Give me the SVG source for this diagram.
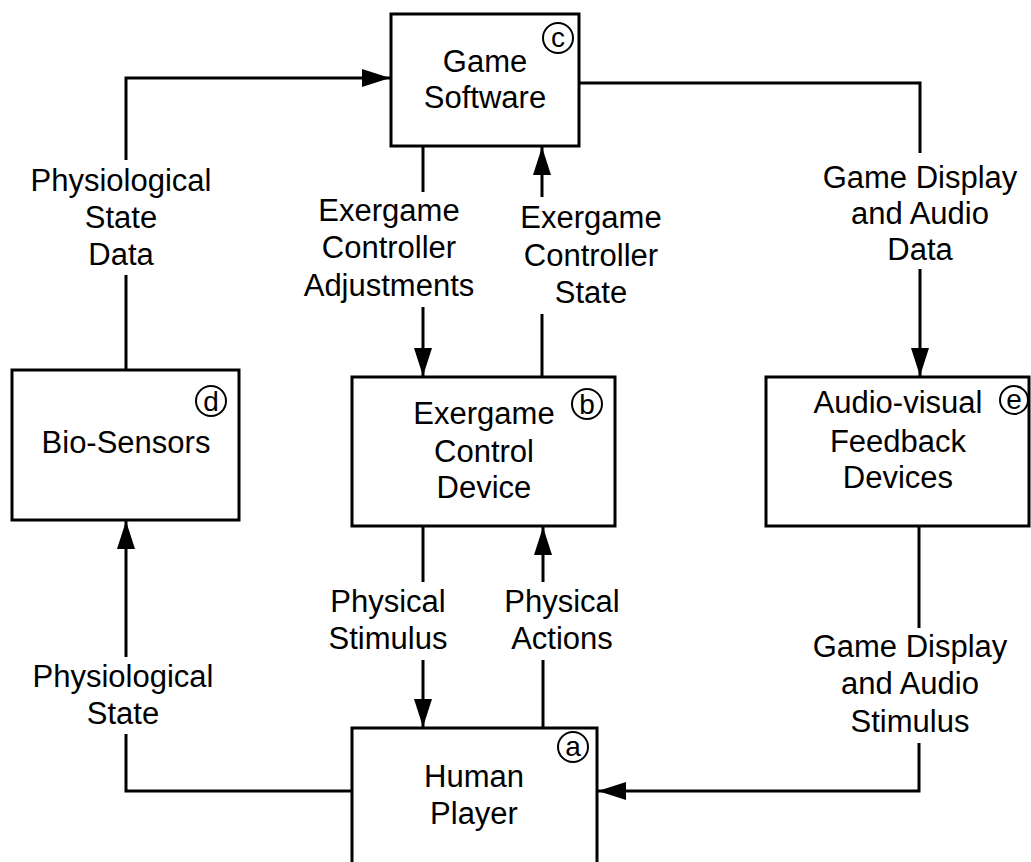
<svg xmlns="http://www.w3.org/2000/svg" width="1031" height="862" viewBox="0 0 1031 862">
<style>
.box{fill:#fff;stroke:#000;stroke-width:3}
.ln{fill:none;stroke:#000;stroke-width:3}
.t{font-family:"Liberation Sans",Arial,sans-serif;font-size:31px;fill:#000;text-anchor:middle}
.c{fill:none;stroke:#000;stroke-width:2}
.ct{font-family:"Liberation Sans",Arial,sans-serif;font-size:28px;fill:#000;text-anchor:middle}
</style>
<defs>
<marker id="ah" viewBox="0 0 10 10" refX="10" refY="5" markerUnits="userSpaceOnUse" markerWidth="28" markerHeight="18" orient="auto" preserveAspectRatio="none">
<path d="M0,0 L10,5 L0,10 z" fill="#000"/>
</marker>
</defs>
<rect width="1031" height="862" fill="#fff"/>
<g id="connectors">
<path class="ln" d="M126,370 V275"/>
<path class="ln" d="M126,160 V78 H390" marker-end="url(#ah)"/>
<path class="ln" d="M423,146 V192"/>
<path class="ln" d="M423,307 V376" marker-end="url(#ah)"/>
<path class="ln" d="M542,377 V314"/>
<path class="ln" d="M542,197 V147" marker-end="url(#ah)"/>
<path class="ln" d="M579,83 H920 V153"/>
<path class="ln" d="M920,269 V376" marker-end="url(#ah)"/>
<path class="ln" d="M423,526 V582"/>
<path class="ln" d="M423,660 V727" marker-end="url(#ah)"/>
<path class="ln" d="M543,728 V660"/>
<path class="ln" d="M543,582 V527" marker-end="url(#ah)"/>
<path class="ln" d="M352,791 H126 V734"/>
<path class="ln" d="M126,657 V521" marker-end="url(#ah)"/>
<path class="ln" d="M919,526 V628"/>
<path class="ln" d="M919,743 V791 H598" marker-end="url(#ah)"/>
</g>
<g id="labels">
<text class="t" x="121" y="191">Physiological</text>
<text class="t" x="121" y="228">State</text>
<text class="t" x="121" y="265">Data</text>
<text class="t" x="389" y="221">Exergame</text>
<text class="t" x="389" y="258">Controller</text>
<text class="t" x="389" y="296">Adjustments</text>
<text class="t" x="591" y="228">Exergame</text>
<text class="t" x="591" y="266">Controller</text>
<text class="t" x="591" y="303">State</text>
<text class="t" x="920" y="188">Game Display</text>
<text class="t" x="920" y="224">and Audio</text>
<text class="t" x="920" y="260">Data</text>
<text class="t" x="388" y="612">Physical</text>
<text class="t" x="388" y="649">Stimulus</text>
<text class="t" x="562" y="612">Physical</text>
<text class="t" x="562" y="649">Actions</text>
<text class="t" x="123" y="687">Physiological</text>
<text class="t" x="123" y="724">State</text>
<text class="t" x="910" y="657">Game Display</text>
<text class="t" x="910" y="694">and Audio</text>
<text class="t" x="910" y="732">Stimulus</text>
</g>
<g id="game-software">
<rect class="box" x="391" y="14" width="188" height="132"/>
<text class="t" x="485" y="72">Game</text>
<text class="t" x="485" y="108">Software</text>
<circle class="c" cx="558" cy="38" r="15"/>
<text class="ct" x="558" y="47">c</text>
</g>
<g id="bio-sensors">
<rect class="box" x="12" y="370" width="227" height="150"/>
<text class="t" x="126" y="453">Bio-Sensors</text>
<circle class="c" cx="211" cy="401" r="15"/>
<text class="ct" x="211" y="411">d</text>
</g>
<g id="exergame-control-device">
<rect class="box" x="352" y="377" width="263" height="149"/>
<text class="t" x="484" y="424">Exergame</text>
<text class="t" x="484" y="462">Control</text>
<text class="t" x="484" y="498">Device</text>
<circle class="c" cx="587" cy="404" r="15"/>
<text class="ct" x="587" y="414">b</text>
</g>
<g id="audio-visual">
<rect class="box" x="766" y="377" width="263" height="149"/>
<text class="t" x="898" y="413">Audio-visual</text>
<text class="t" x="898" y="452">Feedback</text>
<text class="t" x="898" y="488">Devices</text>
<circle class="c" cx="1014" cy="400" r="14"/>
<text class="ct" x="1014" y="409">e</text>
</g>
<g id="human-player">
<rect class="box" x="352" y="728" width="245" height="160"/>
<text class="t" x="474" y="787">Human</text>
<text class="t" x="474" y="824">Player</text>
<circle class="c" cx="573" cy="747" r="15"/>
<text class="ct" x="573" y="756">a</text>
</g>
</svg>
